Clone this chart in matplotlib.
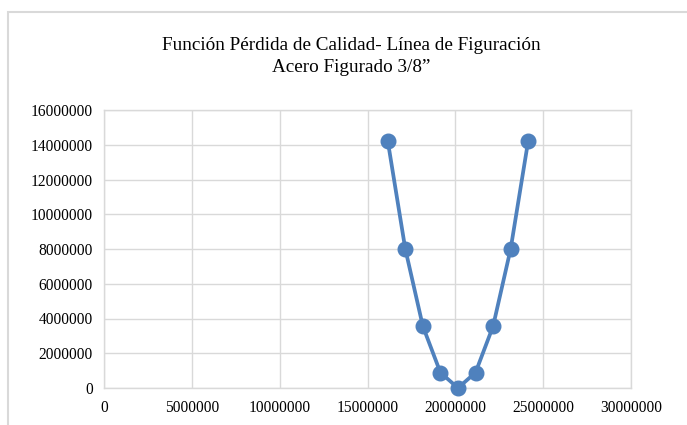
import matplotlib
matplotlib.use('Agg')
import matplotlib.pyplot as plt
from matplotlib.patches import Rectangle

# quality loss curve, diameter around the target value
diametro = [16150000, 17150000, 18150000, 19150000, 20150000,
            21150000, 22150000, 23150000, 24150000]
perdida = [14240000, 8010000, 3560000, 890000, 0,
           890000, 3560000, 8010000, 14240000]

x_ticks = [0, 5000000, 10000000, 15000000, 20000000, 25000000, 30000000]
y_ticks = [0, 2000000, 4000000, 6000000, 8000000,
           10000000, 12000000, 14000000, 16000000]

plt.rcParams['font.family'] = ['Liberation Serif', 'DejaVu Serif']

fig = plt.figure(figsize=(6.87, 4.25), dpi=100)
ax = fig.add_axes([104 / 687, 1 - 388 / 425, 527 / 687, 278 / 425])

grid_col = '#d9d9d9'
ax.plot(diametro, perdida, color='#4f81bd', linewidth=2.7,
        marker='o', markersize=10.5, zorder=3, clip_on=False)

ax.set_xlim(0, 30000000)
ax.set_ylim(0, 16000000)
ax.set_xticks(x_ticks)
ax.set_yticks(y_ticks)
ax.set_xticklabels([str(v) for v in x_ticks])
ax.set_yticklabels([str(v) for v in y_ticks])
ax.tick_params(axis='both', length=0, labelsize=11.2, colors='#000000')
ax.tick_params(axis='y', pad=8)
ax.tick_params(axis='x', pad=9)
ax.grid(True, color=grid_col, linewidth=1.0)
ax.set_axisbelow(True)
for s in ax.spines.values():
    s.set_color(grid_col)
    s.set_linewidth(1.0)

fig.text(351 / 687, 1 - 45 / 425, 'Función Pérdida de Calidad- Línea de Figuración',
         ha='center', va='center', fontsize=13.8)
fig.text(351 / 687, 1 - 67 / 425, 'Acero Figurado 3/8”',
         ha='center', va='center', fontsize=13.8)

# chart frame
fig.patches.append(Rectangle((8 / 687, -0.1), 1.0, 1 - 12 / 425 + 0.1,
                             transform=fig.transFigure, fill=False,
                             edgecolor='#d9d9d9', linewidth=1.5))

fig.savefig('out.png', dpi=100)
